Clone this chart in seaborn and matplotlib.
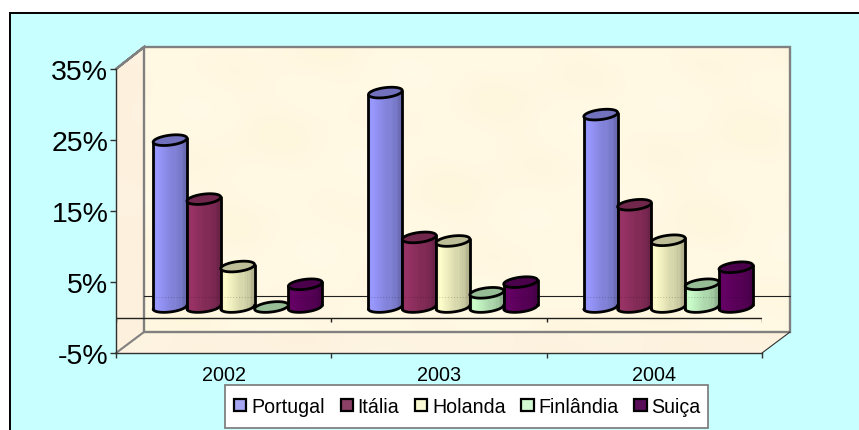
#!/usr/bin/env python3

import numpy as np
import pandas as pd
import matplotlib
matplotlib.use('Agg')
import matplotlib.pyplot as plt
from matplotlib.patches import Polygon, Rectangle
import seaborn as sns

# chart values (percent)
years = ['2002', '2003', '2004']
countries = ['Portugal', 'Itália', 'Holanda', 'Finlândia', 'Suiça']
portugal = [23.5, 30.2, 27.1]
italia = [15.2, 9.8, 14.4]
holanda = [5.7, 9.3, 9.4]
finlandia = [0.0, 2.0, 3.2]
suica = [3.2, 3.5, 5.6]
y_ticks = [-5, 5, 15, 25, 35]

colors = ['#9999FF', '#993366', '#FFFFCC', '#CCFFCC', '#660066']

W, H = 859, 431
CYAN = '#C8FFFF'
GREY = '#808080'
LINE_W = 2.0

# cylinder top ellipse, in value units (7.07 px per percent)
ELL_B = 0.70
ELL_TILT = 0.28


def fig_rect(left, top, right, bottom):
    """Figure-fraction rectangle from pixel edges."""
    return [left / W, 1 - bottom / H, (right - left) / W, (bottom - top) / H]


def mottled(rows, cols, base, amount):
    """Soft paper-like texture for the walls of the chart."""
    yy, xx = np.mgrid[0:rows, 0:cols]
    tex = (np.sin(xx / 37.0 + yy / 61.0) + np.sin(xx / 19.0 - yy / 23.0 + 1.3)
           + np.sin(xx / 71.0 + yy / 13.0 + 2.1)) / 3.0
    rgb = np.array(matplotlib.colors.to_rgb(base))
    img = rgb[None, None, :] + tex[:, :, None] * amount * np.array([0.0, 0.5, 1.0])
    return np.clip(img, 0, 1)


def draw_background(ax):
    """Page, the cyan chart area and the 3D box around the plot."""
    ax.set_xlim(0, W)
    ax.set_ylim(H, 0)
    ax.axis('off')
    ax.add_patch(Rectangle((10, 14), W - 10, H - 14, fc=CYAN, ec='none'))
    ax.plot([9.5, 9.5, W], [H, 13.5, 13.5], color='black', lw=1.4, solid_joinstyle='miter')

    back = ax.imshow(mottled(285, 646, '#FFF8E2', 0.016), extent=[144, 790, 333, 48],
                     aspect='auto', zorder=1)
    side = ax.imshow(mottled(306, 28, '#FDF1DE', 0.01), extent=[116, 144, 354, 48],
                     aspect='auto', zorder=1)
    side.set_clip_path(Polygon([(116, 70), (144, 48), (144, 333), (116, 354)],
                               transform=ax.transData))
    floor = ax.imshow(mottled(21, 674, '#FDF3E0', 0.01), extent=[116, 790, 354, 333],
                      aspect='auto', zorder=1)
    floor.set_clip_path(Polygon([(116, 354), (144, 333), (790, 333), (762, 354)],
                                transform=ax.transData))
    ax.set_xlim(0, W)
    ax.set_ylim(H, 0)

    ax.plot([116, 144, 790, 790, 144, 144, 116], [70, 48, 48, 333, 333, 48, 70],
            color=GREY, lw=1.7, zorder=2, solid_joinstyle='miter')
    ax.plot([116, 144], [354, 333], color=GREY, lw=1.5, zorder=2)
    ax.plot([762, 790], [354, 333], color='#303030', lw=0.8, zorder=2)
    # zero line on the back wall
    ax.plot([144, 790], [297, 297], color='#202020', lw=0.8, zorder=3)
    # legend box
    ax.add_patch(Rectangle((224.5, 386.5), 483.5, 43, fc='white', ec=GREY, lw=1.3, zorder=4))


def draw_front_axis(ax):
    """Value and year axes on the front plane of the box."""
    ax.patch.set_alpha(0)
    ax.set_xlim(0, 3)
    ax.set_ylim(-5, 35)
    sns.despine(ax=ax, top=True, right=True)
    for s in ['left', 'bottom']:
        ax.spines[s].set_color('#303030')
        ax.spines[s].set_linewidth(1.0)
    ax.set_yticks(y_ticks)
    ax.set_yticklabels([f'{v}%' for v in y_ticks], fontsize=20.5, color='black')
    ax.set_xticks([0, 1, 2, 3])
    ax.set_xticklabels([])
    ax.set_xticks([0.5, 1.5, 2.5], minor=True)
    ax.set_xticklabels(years, minor=True, fontsize=14.2, color='black')
    ax.tick_params(axis='y', left=True, length=4, width=1.0, color='#303030', pad=1.5)
    ax.tick_params(axis='x', which='major', bottom=True, length=3.5, width=1.0, color='#303030')
    ax.tick_params(axis='x', which='minor', bottom=False, length=0, pad=8.5)
    ax.axhline(0, color='#202020', lw=1.0)
    ax.vlines([0, 1, 2, 3], -0.65, 0, color='#202020', lw=1.0)


def body_shades(n=80):
    """Brightness across a cylinder: light on the left, dark and ribbed on the right."""
    pos = np.linspace(0, 1, n)
    shade = np.interp(pos, [0, 0.12, 0.6, 1.0], [0.94, 1.0, 0.84, 0.68])
    for c in [0.62, 0.68, 0.74, 0.80, 0.86]:
        shade[np.abs(pos - c) < 0.012] += 0.08
    return shade


def ellipse_points(cx, a, cy, start, stop, n=60):
    t = np.linspace(start, stop, n)
    return cx + a * np.cos(t), cy + ELL_B * np.sin(t) + ELL_TILT * np.cos(t)


def draw_cylinder(ax, bar, color, z):
    """Turn one seaborn bar into a cylinder using its own position and height."""
    x0, a = bar.get_x(), bar.get_width() / 2
    cx = x0 + a
    top = bar.get_height()
    rgb = np.array(matplotlib.colors.to_rgb(color))
    bar.set_visible(False)

    if top > 0.01:
        bx, by = ellipse_points(cx, a, 0, np.pi, 2 * np.pi)
        outline = list(zip(bx, by)) + [(cx + a, top + ELL_TILT), (cx - a, top - ELL_TILT)]
        shade = body_shades()
        img = np.clip(shade[None, :, None] * rgb[None, None, :], 0, 1)
        im = ax.imshow(img, extent=[x0, x0 + 2 * a, -2, top + 1], aspect='auto',
                       interpolation='bilinear', zorder=z)
        im.set_clip_path(Polygon(outline, closed=True, transform=ax.transData))
        ax.plot(bx, by, color='black', lw=LINE_W, zorder=z + 0.1)
        ax.plot([cx - a, cx - a], [-ELL_TILT, top - ELL_TILT], color='black', lw=LINE_W, zorder=z + 0.1)
        ax.plot([cx + a, cx + a], [ELL_TILT, top + ELL_TILT], color='black', lw=LINE_W, zorder=z + 0.1)

    tx, ty = ellipse_points(cx, a, top, 0, 2 * np.pi)
    ax.fill(tx, ty, facecolor=rgb * 0.74, edgecolor='black', lw=LINE_W, zorder=z + 0.2)
    # faint dots where the wall line shows through the cylinder
    if top > 1.45:
        ax.plot([cx - a, cx + a], [1.45, 1.45], color='black', alpha=0.22, lw=0.7,
                ls=(0, (1, 2)), zorder=z + 0.1)


def main():
    sns.set_theme(style='white')
    plt.rcParams['font.family'] = ['Liberation Sans', 'DejaVu Sans']

    df = pd.DataFrame({
        'ano': np.repeat(years, len(countries)),
        'pais': countries * len(years),
        'valor': np.array([portugal, italia, holanda, finlandia, suica]).T.ravel(),
    })

    fig = plt.figure(figsize=(W / 100, H / 100), dpi=100, facecolor='white')
    ax_bg = fig.add_axes([0, 0, 1, 1], zorder=0)
    ax_front = fig.add_axes(fig_rect(116, 70, 762, 354), zorder=1)
    # bars stand half way into the box depth
    ax = fig.add_axes(fig_rect(130, 59.5, 776, 343.5), zorder=2)

    draw_background(ax_bg)
    draw_front_axis(ax_front)

    sns.barplot(data=df, x='ano', y='valor', hue='pais', hue_order=countries,
                palette=colors, width=0.785, gap=0, errorbar=None, ax=ax)
    ax.patch.set_alpha(0)
    ax.axis('off')

    z = 3
    bars = []
    for color, container in zip(colors, ax.containers):
        bars += [(bar, color) for bar in container]
    bars.sort(key=lambda item: item[0].get_x())
    for bar, color in bars:
        draw_cylinder(ax, bar, color, z)
        z += 1
    ax.set_xlim(-0.5, 2.5)
    ax.set_ylim(-5, 35)

    sns.move_legend(ax, loc='center', bbox_to_anchor=(467.5 / W, 1 - 407.5 / H),
                    bbox_transform=fig.transFigure, ncol=5, title=None, frameon=False,
                    fontsize=14.1, borderaxespad=0, borderpad=0, columnspacing=0.8,
                    handlelength=0.62, handleheight=0.62, handletextpad=0.25,
                    labelcolor='black')
    leg = ax.get_legend()
    leg.set_zorder(50)
    for handle in leg.legend_handles:
        handle.set_edgecolor('black')
        handle.set_linewidth(1.6)

    fig.savefig('out.png', dpi=100, facecolor='white')
    plt.close(fig)


if __name__ == '__main__':
    main()
